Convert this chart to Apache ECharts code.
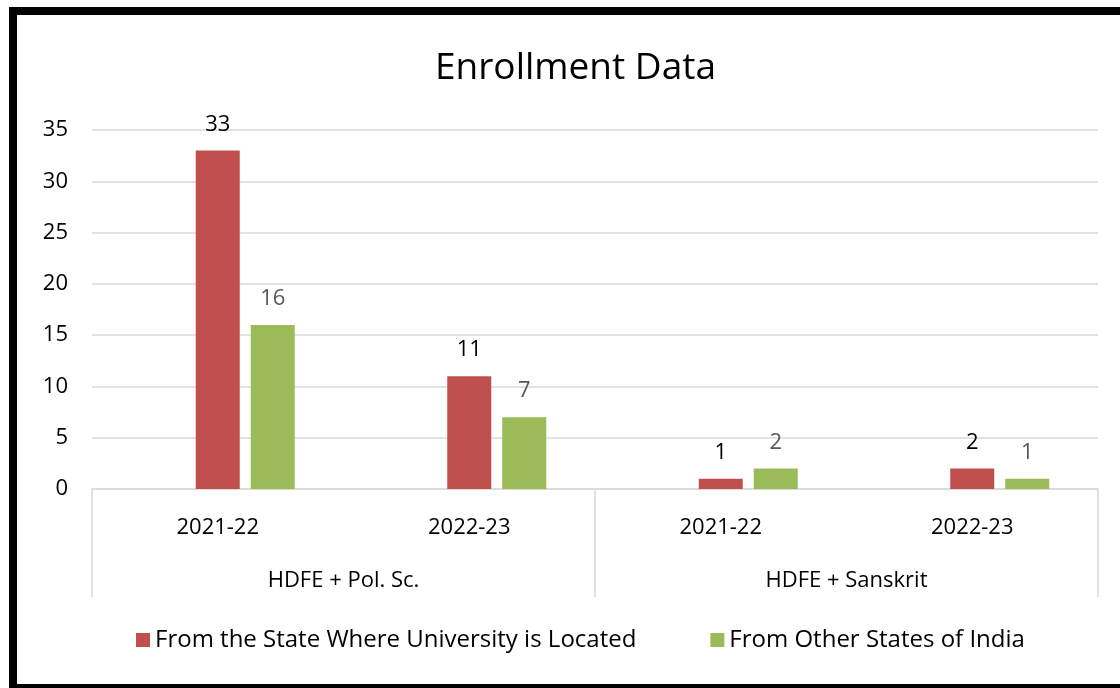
<!DOCTYPE html>
<html>
<head>
<meta charset="utf-8">
<script src="https://cdn.jsdelivr.net/npm/echarts@6/dist/echarts.min.js"></script>
<style>
html,body{margin:0;padding:0;background:#fff;}
#chart{width:1120px;height:688px;}
</style>
</head>
<body>
<div id="chart"></div>
<script>
const categories = ['2021-22', '2022-23', '2021-22', '2022-23'];
const groups = ['HDFE + Pol. Sc.', 'HDFE + Sanskrit'];
const seriesNames = ['From the State Where University is Located', 'From Other States of India'];
const stateValues = [33, 11, 1, 2];
const otherValues = [16, 7, 2, 1];
const emptySlot = [null, null, null, null];

const FONT = 'Open Sans';
const chart = echarts.init(document.getElementById('chart'));
chart.setOption({
  animation: false,
  backgroundColor: '#fff',
  textStyle: { fontFamily: FONT },
  title: {
    text: 'Enrollment Data',
    left: 430,
    top: 45,
    textStyle: { fontFamily: FONT, fontSize: 37, fontWeight: 'normal', color: '#000' }
  },
  graphic: [{
    type: 'rect',
    shape: { x: 13, y: 11, width: 1200, height: 677 },
    style: { fill: 'none', stroke: '#000', lineWidth: 8 },
    silent: true
  }],
  legend: {
    data: seriesNames,
    left: 131,
    top: 623,
    icon: 'rect',
    itemWidth: 14,
    itemHeight: 14,
    itemGap: 74,
    textStyle: { fontFamily: FONT, fontSize: 24, color: '#000' }
  },
  grid: { left: 92, right: 22, top: 130, bottom: 199, containLabel: false },
  xAxis: [{
    type: 'category',
    data: categories,
    position: 'bottom',
    axisLine: { show: true, lineStyle: { color: '#d9d9d9', width: 1.5 } },
    axisTick: { show: false },
    axisLabel: { margin: 28, fontFamily: FONT, fontSize: 22, color: '#000' }
  }, {
    type: 'category',
    data: groups,
    position: 'bottom',
    axisLine: { show: false },
    axisTick: { show: true, length: 108, lineStyle: { color: '#d9d9d9', width: 1.5 } },
    axisLabel: { margin: 81, fontFamily: FONT, fontSize: 22, color: '#000' }
  }],
  yAxis: {
    type: 'value',
    min: 0,
    max: 35,
    interval: 5,
    axisLine: { show: false },
    axisTick: { show: false },
    splitLine: { lineStyle: { color: '#d9d9d9', width: 1.5 } },
    axisLabel: { margin: 24, fontFamily: FONT, fontSize: 22, color: '#000' }
  },
  series: [{
    name: 'blank',
    type: 'bar',
    data: emptySlot,
    barWidth: 44,
    barGap: '25%'
  }, {
    name: seriesNames[0],
    type: 'bar',
    data: stateValues,
    barWidth: 44,
    barGap: '25%',
    itemStyle: { color: '#C0504D' },
    label: { show: true, position: 'top', distance: 15, fontFamily: FONT, fontSize: 22, color: '#000' }
  }, {
    name: seriesNames[1],
    type: 'bar',
    data: otherValues,
    barWidth: 44,
    barGap: '25%',
    itemStyle: { color: '#9BBB59' },
    label: { show: true, position: 'top', distance: 15, fontFamily: FONT, fontSize: 22, color: '#595959' }
  }]
});
</script>
</body>
</html>
